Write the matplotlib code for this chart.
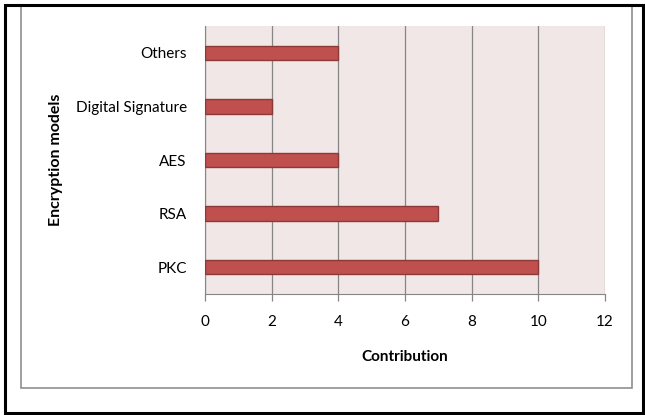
import matplotlib
matplotlib.use("Agg")
import matplotlib.pyplot as plt
from matplotlib.patches import Rectangle

categories = ["PKC", "RSA", "AES", "Digital Signature", "Others"]
contribution = [10, 7, 4, 2, 4]
x_ticks = [0, 2, 4, 6, 8, 10, 12]

plt.rcParams['font.family'] = ['Lato', 'DejaVu Sans']

fig = plt.figure(figsize=(6.45, 4.15), dpi=100)
ax = fig.add_axes([205/645, 1-294/415, 400/645, 268/415])

ax.set_facecolor('#F2E7E7')
ax.barh(range(len(categories)), contribution, height=0.27,
        color='#C0504D', edgecolor='#8C3A38', linewidth=1.0, zorder=3)
ax.set_xlim(0, 12)
ax.set_ylim(-0.5, len(categories) - 0.5)
ax.set_xticks(x_ticks)
ax.set_xticklabels([str(t) for t in x_ticks])
ax.set_yticks(range(len(categories)))
ax.set_yticklabels(categories)
ax.xaxis.grid(True, color='#868686', linewidth=0.9, zorder=1)
ax.set_axisbelow(True)

for s in ['top', 'right']:
    ax.spines[s].set_visible(False)
ax.spines['left'].set_color('#868686')
ax.spines['bottom'].set_color('#868686')
ax.tick_params(axis='x', colors='#868686', length=5, width=0.9, labelcolor='black',
               labelsize=11, pad=10)
ax.tick_params(axis='y', length=0, labelsize=11, pad=13)

ax.set_xlabel('Contribution', fontweight='bold', fontsize=11, labelpad=15)
ax.set_ylabel('Encryption models', fontweight='bold', fontsize=11.5, labelpad=9)

# chart area frame and outer border
fig.patches.append(Rectangle((21/645, 1-388/415), (632-21)/645, (388-6)/415,
                             transform=fig.transFigure, fill=False,
                             edgecolor='#8F8F8F', linewidth=1.2))
fig.patches.append(Rectangle((5/645, 1-413/415), (643-5)/645, (413-5)/415,
                             transform=fig.transFigure, fill=False,
                             edgecolor='black', linewidth=2.2))

fig.savefig('out.png', dpi=100)
